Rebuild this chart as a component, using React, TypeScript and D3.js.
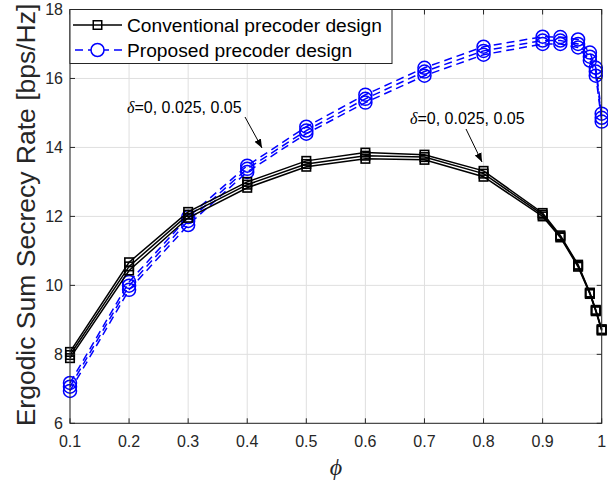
import React from "react";
import * as d3 from "d3";

const phi = [0.1, 0.2, 0.3, 0.4, 0.5, 0.6, 0.7, 0.8, 0.9, 0.93, 0.96, 0.98, 0.99, 1.0];

const convDelta0 = [8.07, 10.67, 12.13, 13.0, 13.61, 13.85, 13.79, 13.32, 12.1, 11.45, 10.6, 9.79, 9.29, 8.73];
const convDelta025 = [7.98, 10.55, 12.05, 12.92, 13.52, 13.76, 13.72, 13.24, 12.05, 11.42, 10.57, 9.77, 9.27, 8.71];
const convDelta05 = [7.89, 10.43, 11.96, 12.83, 13.44, 13.67, 13.64, 13.15, 12.0, 11.39, 10.54, 9.75, 9.25, 8.69];

const propDelta0 = [7.17, 10.1, 11.98, 13.47, 14.6, 15.53, 16.31, 16.92, 17.21, 17.2, 17.13, 16.75, 16.31, 14.98];
const propDelta025 = [7.06, 9.99, 11.87, 13.38, 14.49, 15.41, 16.2, 16.8, 17.1, 17.1, 17.0, 16.63, 16.2, 14.86];
const propDelta05 = [6.94, 9.87, 11.75, 13.29, 14.4, 15.3, 16.08, 16.69, 17.0, 17.0, 16.9, 16.52, 16.08, 14.75];

const xTicks = [0.1, 0.2, 0.3, 0.4, 0.5, 0.6, 0.7, 0.8, 0.9, 1];
const xTickLabels = ["0.1", "0.2", "0.3", "0.4", "0.5", "0.6", "0.7", "0.8", "0.9", "1"];
const yTicks = [6, 8, 10, 12, 14, 16, 18];

const legendLabels = ["Conventional precoder design", "Proposed precoder design"];
const annotationText = "=0, 0.025, 0.05";

export default function App() {
  const W = 608, H = 482;
  const left = 70, right = 601.7, top = 9.5, bottom = 423.3;
  const x = d3.scaleLinear().domain([0.1, 1]).range([left, right]);
  const y = d3.scaleLinear().domain([6, 18]).range([bottom, top]);
  const line = d3.line<number>().x((_, i) => x(phi[i])).y((v) => y(v));
  const font = "Liberation Sans, Arial, Helvetica, sans-serif";
  const serif = "Liberation Serif, Times New Roman, serif";
  const axisColor = "#262626";
  const conv = [convDelta0, convDelta025, convDelta05];
  const prop = [propDelta0, propDelta025, propDelta05];
  const sq = 8.5;
  const cr = 6.5;

  return (
    <svg width={W} height={H} style={{ position: "absolute", left: 0, top: 0, background: "#fff" }}>
      <rect x={0} y={0} width={W} height={H} fill="#fff" />
      {xTicks.map((t) => (
        <line key={"gx" + t} x1={x(t)} x2={x(t)} y1={top} y2={bottom} stroke="#dfdfdf" strokeWidth={1} />
      ))}
      {yTicks.map((t) => (
        <line key={"gy" + t} x1={left} x2={right} y1={y(t)} y2={y(t)} stroke="#dfdfdf" strokeWidth={1} />
      ))}
      {prop.map((s, k) => (
        <g key={"p" + k}>
          <path d={line(s) || ""} fill="none" stroke="#0000ff" strokeWidth={1.5} strokeDasharray="8,5" />
          {s.map((v, i) => (
            <circle key={i} cx={x(phi[i])} cy={y(v)} r={cr} fill="none" stroke="#0000ff" strokeWidth={1.5} />
          ))}
        </g>
      ))}
      {conv.map((s, k) => (
        <g key={"c" + k}>
          <path d={line(s) || ""} fill="none" stroke="#000" strokeWidth={1.5} />
          {s.map((v, i) => (
            <rect key={i} x={x(phi[i]) - sq / 2} y={y(v) - sq / 2} width={sq} height={sq} fill="none" stroke="#000" strokeWidth={1.6} />
          ))}
        </g>
      ))}
      <rect x={left} y={top} width={right - left} height={bottom - top} fill="none" stroke={axisColor} strokeWidth={1} />
      {xTicks.map((t, i) => (
        <g key={"xt" + t}>
          <line x1={x(t)} x2={x(t)} y1={bottom} y2={bottom - 5} stroke={axisColor} />
          <line x1={x(t)} x2={x(t)} y1={top} y2={top + 5} stroke={axisColor} />
          <text x={x(t)} y={447} textAnchor="middle" fontFamily={font} fontSize={16} fill={axisColor}>
            {xTickLabels[i]}
          </text>
        </g>
      ))}
      {yTicks.map((t) => (
        <g key={"yt" + t}>
          <line x1={left} x2={left + 5} y1={y(t)} y2={y(t)} stroke={axisColor} />
          <line x1={right} x2={right - 5} y1={y(t)} y2={y(t)} stroke={axisColor} />
          <text x={63} y={y(t) + 5.5} textAnchor="end" fontFamily={font} fontSize={16} fill={axisColor}>
            {t}
          </text>
        </g>
      ))}
      <text
        transform={`translate(35,215) rotate(-90)`}
        textAnchor="middle"
        fontFamily={font}
        fontSize={26.5}
        fill={axisColor}
      >
        Ergodic Sum Secrecy Rate [bps/Hz]
      </text>
      <text x={336} y={475} textAnchor="middle" fontFamily={serif} fontStyle="italic" fontSize={24} fill={axisColor}>
        ϕ
      </text>
      <rect x={left} y={top} width={322} height={54} fill="#fff" stroke={axisColor} strokeWidth={1} />
      <line x1={73} x2={122} y1={25} y2={25} stroke="#000" strokeWidth={1.5} />
      <rect x={97.5 - sq / 2} y={25 - sq / 2} width={sq} height={sq} fill="none" stroke="#000" strokeWidth={1.5} />
      <text x={127} y={32} fontFamily={font} fontSize={19.2} fill="#000">
        {legendLabels[0]}
      </text>
      <line x1={73} x2={122} y1={50} y2={50} stroke="#0000ff" strokeWidth={1.5} strokeDasharray="8,5" strokeDashoffset={-2} />
      <circle cx={97.5} cy={50} r={cr} fill="#fff" stroke="#0000ff" strokeWidth={1.5} />
      <text x={127} y={57} fontFamily={font} fontSize={19.2} fill="#000">
        {legendLabels[1]}
      </text>
      <defs>
        <marker id="ah" viewBox="0 0 10 10" refX={10} refY={5} markerWidth={9} markerHeight={9} orient="auto" markerUnits="userSpaceOnUse">
          <path d="M0,1 L10,5 L0,9 z" fill="#000" />
        </marker>
      </defs>
      <text x={127} y={113} fontFamily={font} fontSize={16} fill="#000">
        <tspan fontFamily={serif} fontStyle="italic">δ</tspan>
        {annotationText}
      </text>
      <line x1={245} x2={262} y1={117} y2={148} stroke="#000" strokeWidth={1} markerEnd="url(#ah)" />
      <text x={410} y={124} fontFamily={font} fontSize={16} fill="#000">
        <tspan fontFamily={serif} fontStyle="italic">δ</tspan>
        {annotationText}
      </text>
      <line x1={466} x2={482} y1={129} y2={162} stroke="#000" strokeWidth={1} markerEnd="url(#ah)" />
    </svg>
  );
}
